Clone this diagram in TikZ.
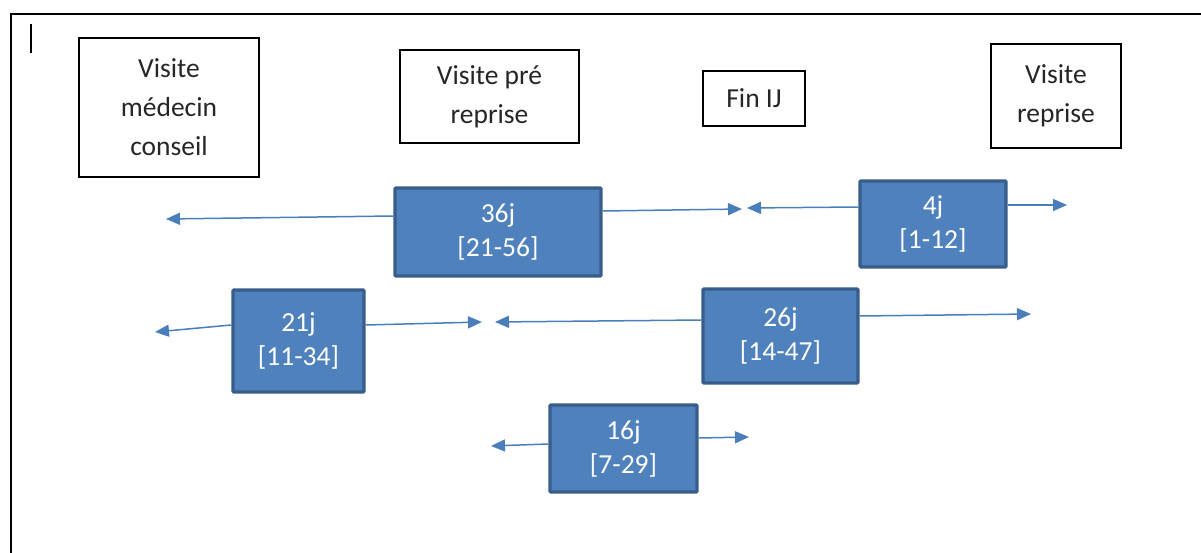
\documentclass[tikz,border=0pt]{standalone}
\usepackage{fontspec}
\setmainfont{Carlito}
\usetikzlibrary{arrows.meta}
\definecolor{bfill}{HTML}{4F81BD}
\definecolor{bdraw}{HTML}{385D8A}
\definecolor{arrc}{HTML}{4A7EBB}
\definecolor{txt}{HTML}{262626}
\tikzset{
  wbox/.style={draw=black, line width=2pt, fill=white, inner sep=0pt, align=center,
    text=txt, font=\fontsize{27.5}{39}\selectfont},
  bbox/.style={draw=bdraw, line width=3.2pt, fill=bfill, rounded corners=1pt, inner sep=0pt,
    align=center, text=white, font=\fontsize{27.5}{34}\selectfont},
  arr/.style={draw=arrc, line width=1.5pt, -{Triangle[length=14pt,width=12pt]}}
}
\begin{document}
\begin{tikzpicture}[x=1pt,y=-1pt]
\useasboundingbox (0,0) rectangle (1201,553);
% frame
\draw[line width=2pt] (11,553) -- (11,14) -- (1201,14);
\draw[line width=1.2pt] (31,24) -- (31,53);
% white boxes
\node[wbox, minimum width=180pt, minimum height=139pt] (vmc) at (169,107.5) {Visite\\médecin\\conseil};
\node[wbox, minimum width=179pt, minimum height=93pt] (vpr) at (489.5,96.5) {Visite pré\\reprise};
\node[wbox, minimum width=102pt, minimum height=55pt] (fij) at (754,98.5) {Fin IJ};
\node[wbox, minimum width=130pt, minimum height=104pt] (vr) at (1056,96) {Visite\\reprise};
% blue boxes
\node[bbox, minimum width=206pt, minimum height=88pt] (b36) at (498,232) {36j\\{[21-56]}};
\node[bbox, minimum width=146pt, minimum height=86pt] (b4) at (933,224) {4j\\{[1-12]}};
\node[bbox, minimum width=131pt, minimum height=102pt] (b21) at (298.5,341) {21j\\{[11-34]}};
\node[bbox, minimum width=155pt, minimum height=94pt] (b26) at (780.5,336) {26j\\{[14-47]}};
\node[bbox, minimum width=147pt, minimum height=87pt] (b16) at (623.5,448.5) {16j\\{[7-29]}};
% arrow ends
\coordinate (e36l) at (166,219);
\coordinate (e36r) at (742,209);
\coordinate (e4l) at (747,208);
\coordinate (e4r) at (1067,205);
\coordinate (e21l) at (155,332);
\coordinate (e21r) at (482,322);
\coordinate (e26l) at (495,322);
\coordinate (e26r) at (1031,314);
\coordinate (e16l) at (491,446);
\coordinate (e16r) at (749,437);
% arrows
\draw[arr] ([yshift=16pt]b36.west) -- (e36l);
\draw[arr] ([yshift=21pt]b36.east) -- (e36r);
\draw[arr] ([yshift=17pt]b4.west) -- (e4l);
\draw[arr] ([yshift=19pt]b4.east) -- (e4r);
\draw[arr] ([yshift=16pt]b21.west) -- (e21l);
\draw[arr] ([yshift=16pt]b21.east) -- (e21r);
\draw[arr] ([yshift=16pt]b26.west) -- (e26l);
\draw[arr] ([yshift=20pt]b26.east) -- (e26r);
\draw[arr] ([yshift=4.5pt]b16.west) -- (e16l);
\draw[arr] ([yshift=10.5pt]b16.east) -- (e16r);
\end{tikzpicture}
\end{document}
